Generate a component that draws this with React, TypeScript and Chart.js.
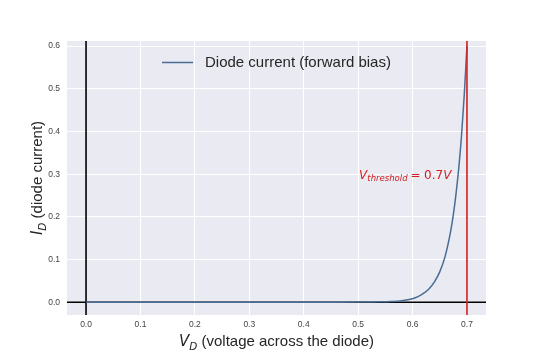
import React, { useEffect, useRef } from 'react';
import { Chart, registerables } from 'chart.js';

Chart.register(...registerables);

// ---- Data ----
const voltage = [0, 0.05, 0.1, 0.15, 0.2, 0.25, 0.3, 0.35, 0.4, 0.45, 0.5, 0.52, 0.54, 0.56, 0.58, 0.6, 0.61, 0.62, 0.63, 0.64, 0.65, 0.66, 0.67, 0.675, 0.68, 0.685, 0.69, 0.695, 0.7];
const current = [0, 0, 0, 0, 0, 0, 0, 0, 0, 0.0001, 0.0003, 0.0005, 0.0008, 0.0015, 0.0034, 0.0082, 0.013, 0.0205, 0.031, 0.047, 0.071, 0.108, 0.166, 0.205, 0.255, 0.315, 0.39, 0.485, 0.6];
const xTickValues = [0, 0.1, 0.2, 0.3, 0.4, 0.5, 0.6, 0.7];
const yTickValues = [0, 0.1, 0.2, 0.3, 0.4, 0.5, 0.6];
const xRange = [-0.035, 0.735];
const yRange = [-0.03, 0.612];
const thresholdVoltage = 0.7;
const annotationPos = [0.5, 0.3];
const legendLabel = 'Diode current (forward bias)';
const xTitleRest = ' (voltage across the diode)';
const yTitleRest = ' (diode current)';

const BG = '#EAEAF2';
const CURVE = '#4a6d94';
const RED = '#d11f1f';
const TEXT_FONT = '"Liberation Sans", Arial, sans-serif';
const MATH_FONT = '"DejaVu Sans", sans-serif';

type Seg = { text: string; font: string; dy: number; gap?: number };

function segWidth(ctx: CanvasRenderingContext2D, segs: Seg[]) {
  let w = 0;
  for (const s of segs) {
    ctx.font = s.font;
    w += (s.gap || 0) + ctx.measureText(s.text).width;
  }
  return w;
}

function drawSegs(ctx: CanvasRenderingContext2D, segs: Seg[], x: number, y: number, color: string) {
  let cx = x;
  ctx.fillStyle = color;
  for (const s of segs) {
    ctx.font = s.font;
    cx += s.gap || 0;
    ctx.fillText(s.text, cx, y + s.dy);
    cx += ctx.measureText(s.text).width;
  }
}

const decorPlugin = {
  id: 'decor',
  beforeDraw(chart: any) {
    const { ctx, chartArea } = chart;
    ctx.save();
    ctx.fillStyle = BG;
    ctx.fillRect(chartArea.left, chartArea.top, chartArea.right - chartArea.left, chartArea.bottom - chartArea.top);
    ctx.restore();
  },
  beforeDatasetsDraw(chart: any) {
    const { ctx, chartArea, scales } = chart;
    const x0 = scales.x.getPixelForValue(0);
    const y0 = scales.y.getPixelForValue(0);
    ctx.save();
    ctx.strokeStyle = '#000';
    ctx.lineWidth = 1.6;
    ctx.beginPath();
    ctx.moveTo(chartArea.left, y0);
    ctx.lineTo(chartArea.right, y0);
    ctx.moveTo(x0, chartArea.top);
    ctx.lineTo(x0, chartArea.bottom);
    ctx.stroke();
    ctx.restore();
  },
  afterDatasetsDraw(chart: any) {
    const { ctx, chartArea, scales } = chart;
    ctx.save();
    // threshold line
    const xt = scales.x.getPixelForValue(thresholdVoltage);
    ctx.strokeStyle = RED;
    ctx.lineWidth = 1.6;
    ctx.beginPath();
    ctx.moveTo(xt, chartArea.top);
    ctx.lineTo(xt, chartArea.bottom);
    ctx.stroke();

    // annotation
    ctx.textBaseline = 'alphabetic';
    ctx.textAlign = 'left';
    const ax = scales.x.getPixelForValue(annotationPos[0]) + 1;
    const ay = scales.y.getPixelForValue(annotationPos[1]) + 4.5;
    drawSegs(ctx, [
      { text: 'V', font: `italic 12px ${MATH_FONT}`, dy: 0 },
      { text: 'threshold', font: `italic 8.5px ${MATH_FONT}`, dy: 2.5 },
      { text: '=', font: `12px ${MATH_FONT}`, dy: 0, gap: 3 },
      { text: '0.7', font: `12px ${MATH_FONT}`, dy: 0, gap: 3.5 },
      { text: 'V', font: `italic 12px ${MATH_FONT}`, dy: 0 },
    ], ax, ay, RED);

    // legend
    const ly = 62.5;
    ctx.strokeStyle = CURVE;
    ctx.lineWidth = 1.5;
    ctx.beginPath();
    ctx.moveTo(162, ly);
    ctx.lineTo(193, ly);
    ctx.stroke();
    ctx.fillStyle = '#262626';
    ctx.font = `15px ${TEXT_FONT}`;
    ctx.textBaseline = 'middle';
    ctx.fillText(legendLabel, 205, ly);

    // x title
    ctx.textBaseline = 'alphabetic';
    const xSegs: Seg[] = [
      { text: 'V', font: `italic 15px ${MATH_FONT}`, dy: 0 },
      { text: 'D', font: `italic 10.5px ${MATH_FONT}`, dy: 3.5 },
      { text: xTitleRest, font: `15px ${TEXT_FONT}`, dy: 0 },
    ];
    const xc = (chartArea.left + chartArea.right) / 2;
    const xw = segWidth(ctx, xSegs);
    drawSegs(ctx, xSegs, xc - xw / 2, 346, '#262626');

    // y title
    const ySegs: Seg[] = [
      { text: 'I', font: `italic 15px ${MATH_FONT}`, dy: 0 },
      { text: 'D', font: `italic 10.5px ${MATH_FONT}`, dy: 3.5 },
      { text: yTitleRest, font: `15px ${TEXT_FONT}`, dy: 0 },
    ];
    const yc = (chartArea.top + chartArea.bottom) / 2;
    const yw = segWidth(ctx, ySegs);
    ctx.translate(42, yc);
    ctx.rotate(-Math.PI / 2);
    drawSegs(ctx, ySegs, -yw / 2, 0, '#262626');
    ctx.restore();
  },
};

export default function App() {
  const ref = useRef<HTMLCanvasElement | null>(null);
  useEffect(() => {
    if (!ref.current) return;
    const chart = new Chart(ref.current, {
      type: 'line',
      data: {
        datasets: [
          {
            label: legendLabel,
            data: voltage.map((v, i) => ({ x: v, y: current[i] })),
            borderColor: CURVE,
            borderWidth: 1.5,
            pointRadius: 0,
            fill: false,
            cubicInterpolationMode: 'monotone',
          },
        ],
      },
      options: {
        animation: false,
        responsive: false,
        layout: { padding: { left: 0, top: 41, right: 54, bottom: 0 } },
        plugins: { legend: { display: false }, tooltip: { enabled: false } },
        scales: {
          x: {
            type: 'linear',
            min: xRange[0],
            max: xRange[1],
            afterBuildTicks: (axis: any) => {
              axis.ticks = xTickValues.map((value) => ({ value }));
            },
            afterFit: (axis: any) => {
              axis.height = 45;
            },
            grid: { color: '#ffffff', lineWidth: 1, drawTicks: false },
            border: { display: false },
            ticks: {
              padding: 5,
              color: '#444',
              font: { size: 8.5, family: TEXT_FONT },
              maxRotation: 0,
              callback: (v: any) => Number(v).toFixed(1),
            },
          },
          y: {
            type: 'linear',
            min: yRange[0],
            max: yRange[1],
            afterBuildTicks: (axis: any) => {
              axis.ticks = yTickValues.map((value) => ({ value }));
            },
            afterFit: (axis: any) => {
              axis.width = 67;
            },
            grid: { color: '#ffffff', lineWidth: 1, drawTicks: false },
            border: { display: false },
            ticks: {
              padding: 7,
              color: '#444',
              font: { size: 8.5, family: TEXT_FONT },
              callback: (v: any) => Number(v).toFixed(1),
            },
          },
        },
      },
      plugins: [decorPlugin],
    } as any);
    return () => chart.destroy();
  }, []);
  return (
    <div style={{ position: 'fixed', left: 0, top: 0, width: 540, height: 360, background: '#fff' }}>
      <canvas ref={ref} width={540} height={360} style={{ display: 'block', width: 540, height: 360 }} />
    </div>
  );
}
